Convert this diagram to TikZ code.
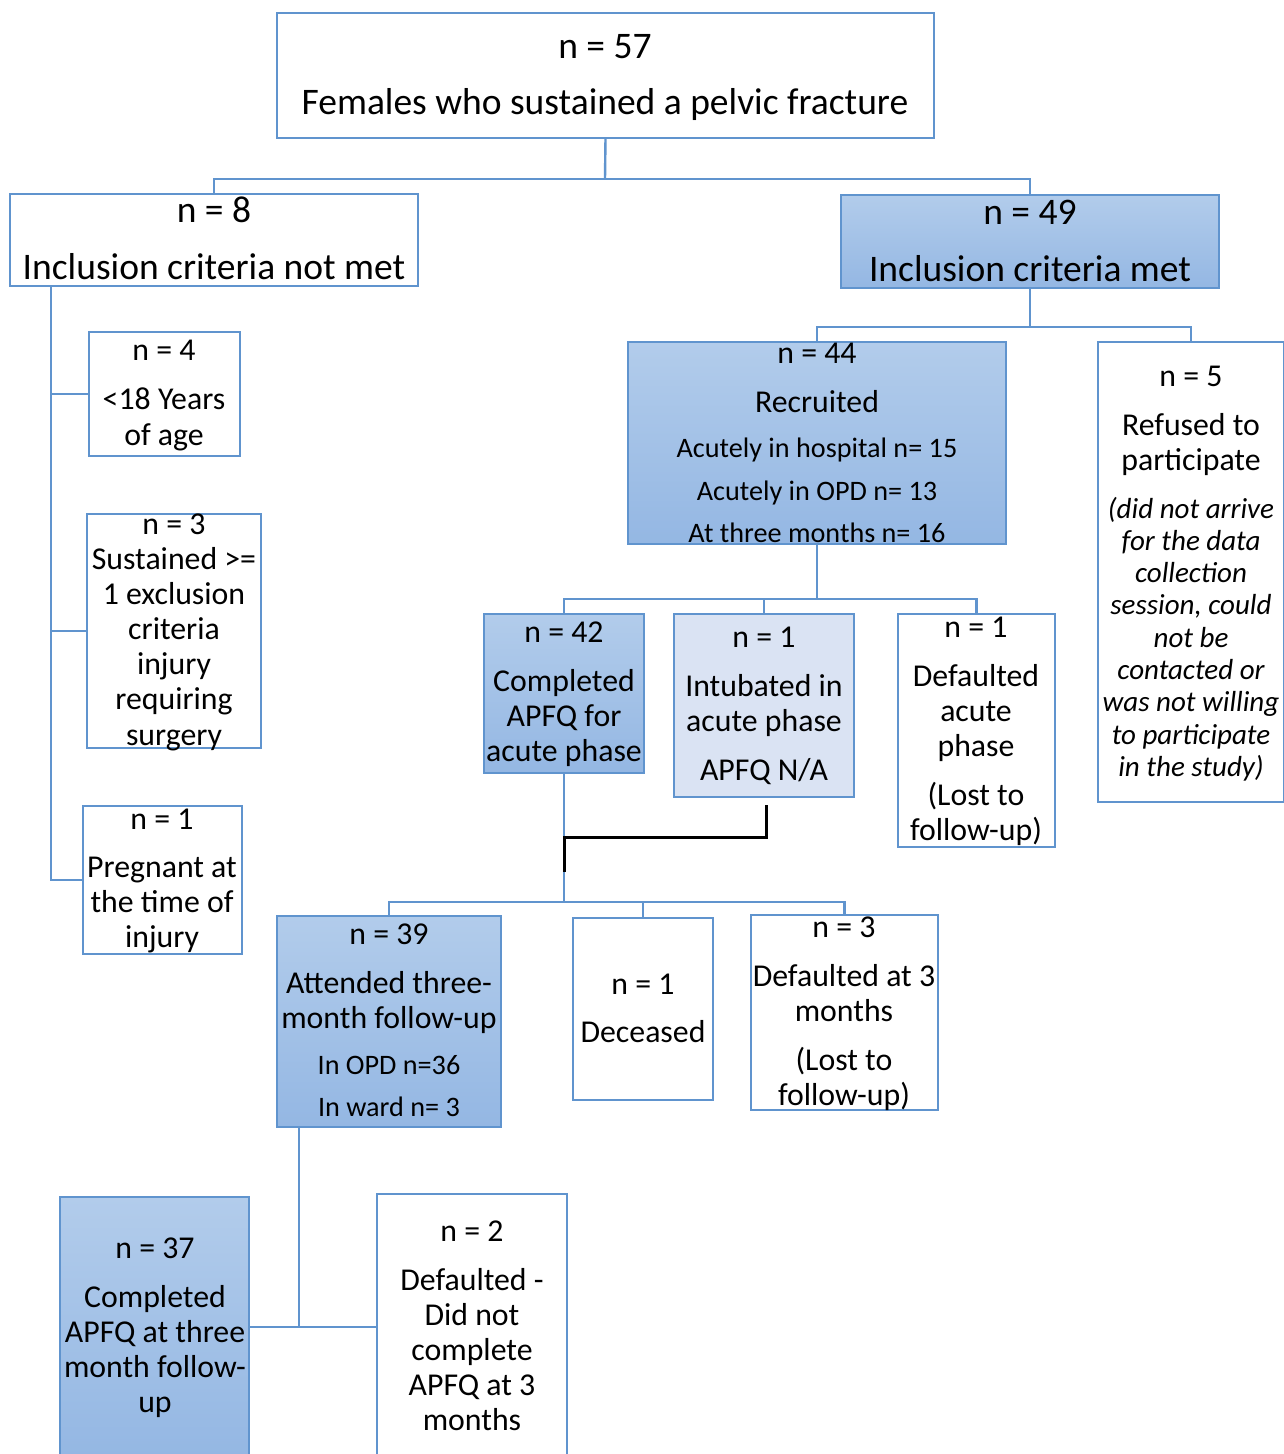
\documentclass[tikz,border=0pt]{standalone}
\usepackage{fontspec}
\setmainfont{Carlito}
\definecolor{lineblue}{RGB}{96,148,206}
\definecolor{fillTop}{RGB}{178,204,235}
\definecolor{fillBot}{RGB}{148,183,227}
\definecolor{paleblue}{RGB}{218,227,243}

\newcommand\fntTop{\fontsize{37.5}{44}\selectfont}
\newcommand\fntBox{\fontsize{31.8}{37}\selectfont}
\newcommand\fntSm{\fontsize{28.2}{33}\selectfont}
\newcommand\fntIt{\fontsize{29}{34}\selectfont\itshape}

% one centred text line per entry: baseline / font / text
\newcommand\boxtext[3]{%
  \foreach \lnY/\lnF/\lnT [count=\lnK] in {#3}
    {\node[font=\lnF, anchor=base, inner sep=0pt] (#1-\lnK) at (#2,\lnY) {\lnT};}}

\tikzset{
  frame/.style={draw=lineblue, line width=2pt, rectangle, inner sep=0pt, outer sep=0pt, anchor=north west},
  plain/.style={frame, fill=white},
  shaded/.style={frame, top color=fillTop, bottom color=fillBot},
  pale/.style={frame, fill=paleblue},
  link/.style={draw=lineblue, line width=2.4pt},
  darklink/.style={draw=black, line width=3pt},
}

\begin{document}
\begin{tikzpicture}[x=1pt,y=-1pt]
\fill[white] (0,0) rectangle (1283,1454);
\useasboundingbox (0,0) rectangle (1283,1454);

% boxes
\node[plain,  minimum width=657pt, minimum height=125pt] (top)    at (277,13)   {};
\node[plain,  minimum width=408pt, minimum height=92pt]  (notmet) at (10,194)   {};
\node[shaded, minimum width=378pt, minimum height=93pt]  (met)    at (841,195)  {};
\node[plain,  minimum width=151pt, minimum height=124pt] (age)    at (89,332)   {};
\node[plain,  minimum width=174pt, minimum height=234pt] (excl)   at (87,514)   {};
\node[plain,  minimum width=159pt, minimum height=148pt] (preg)   at (83,806)   {};
\node[shaded, minimum width=378pt, minimum height=202pt] (rec)    at (628,342)  {};
\node[plain,  minimum width=186pt, minimum height=460pt] (ref)    at (1098,342) {};
\node[shaded, minimum width=160pt, minimum height=159pt] (acute)  at (484,614)  {};
\node[pale,   minimum width=180pt, minimum height=183pt] (intub)  at (674,614)  {};
\node[plain,  minimum width=157pt, minimum height=233pt] (defa)   at (898,614)  {};
\node[shaded, minimum width=224pt, minimum height=211pt] (att)    at (277,916)  {};
\node[plain,  minimum width=140pt, minimum height=182pt] (dec)    at (573,918)  {};
\node[plain,  minimum width=187pt, minimum height=195pt] (defb)   at (751,915)  {};
\node[shaded, minimum width=189pt, minimum height=260pt] (three)  at (60,1197)  {};
\node[plain,  minimum width=190pt, minimum height=266pt] (defc)   at (377,1194) {};

% texts
\boxtext{top}{605}{58/\fntTop/{n = 57}, 114/\fntTop/{Females who sustained a pelvic fracture}}
\boxtext{notmet}{214}{222/\fntTop/{n = 8}, 279/\fntTop/{Inclusion criteria not met}}
\boxtext{met}{1030}{224/\fntTop/{n = 49}, 281/\fntTop/{Inclusion criteria met}}
\boxtext{age}{164}{360/\fntBox/{n = 4}, 409/\fntBox/{<18 Years}, 445/\fntBox/{of age}}
\boxtext{excl}{174}{534/\fntBox/{n = 3}, 569/\fntBox/{Sustained >=}, 604/\fntBox/{1 exclusion},
  639/\fntBox/{criteria}, 674/\fntBox/{injury}, 709/\fntBox/{requiring}, 745/\fntBox/{surgery}}
\boxtext{preg}{162}{829/\fntBox/{n = 1}, 877/\fntBox/{Pregnant at}, 912/\fntBox/{the time of}, 947/\fntBox/{injury}}
\boxtext{rec}{817}{363/\fntBox/{n = 44}, 412/\fntBox/{Recruited}, 457/\fntSm/{Acutely in hospital n= 15},
  500/\fntSm/{Acutely in OPD n= 13}, 542/\fntSm/{At three months n= 16}}
\boxtext{ref}{1191}{386/\fntBox/{n = 5}, 435/\fntBox/{Refused to}, 470/\fntBox/{participate},
  518/\fntIt/{(did not arrive}, 550/\fntIt/{for the data}, 582/\fntIt/{collection},
  614/\fntIt/{session, could}, 647/\fntIt/{not be}, 679/\fntIt/{contacted or},
  711/\fntIt/{was not willing}, 744/\fntIt/{to participate}, 776/\fntIt/{in the study)}}
\boxtext{acute}{564}{642/\fntBox/{n = 42}, 691/\fntBox/{Completed}, 726/\fntBox/{APFQ for}, 761/\fntBox/{acute phase}}
\boxtext{intub}{764}{647/\fntBox/{n = 1}, 696/\fntBox/{Intubated in}, 731/\fntBox/{acute phase}, 780/\fntBox/{APFQ N/A}}
\boxtext{defa}{976}{637/\fntBox/{n = 1}, 686/\fntBox/{Defaulted}, 721/\fntBox/{acute}, 756/\fntBox/{phase},
  805/\fntBox/{(Lost to}, 840/\fntBox/{follow-up)}}
\boxtext{att}{389}{944/\fntBox/{n = 39}, 993/\fntBox/{Attended three-}, 1028/\fntBox/{month follow-up},
  1074/\fntSm/{In OPD n=36}, 1116/\fntSm/{In ward n= 3}}
\boxtext{dec}{643}{994/\fntBox/{n = 1}, 1042/\fntBox/{Deceased}}
\boxtext{defb}{844}{937/\fntBox/{n = 3}, 986/\fntBox/{Defaulted at 3}, 1021/\fntBox/{months},
  1070/\fntBox/{(Lost to}, 1105/\fntBox/{follow-up)}}
\boxtext{three}{155}{1258/\fntBox/{n = 37}, 1307/\fntBox/{Completed}, 1342/\fntBox/{APFQ at three},
  1377/\fntBox/{month follow-}, 1412/\fntBox/{up}}
\boxtext{defc}{472}{1241/\fntBox/{n = 2}, 1290/\fntBox/{Defaulted -}, 1325/\fntBox/{Did not},
  1360/\fntBox/{complete}, 1395/\fntBox/{APFQ at 3}, 1430/\fntBox/{months}}

% connectors
\coordinate (j1) at (605,179);
\draw[link] (top.south) -- (j1);
\draw[link] (notmet.north) |- (j1) -| (met.north);

\coordinate (s1) at (51,286);
\draw[link] (s1) |- (preg.west);
\draw[link] (s1) |- (age.west);
\draw[link] (s1) |- (excl.west);

\coordinate (j2) at (1030,327);
\draw[link] (met.south) -- (j2);
\draw[link] (rec.north) |- (j2) -| (ref.north);

\coordinate (j3) at (817,599);
\draw[link] (rec.south) -- (j3);
\draw[link] (acute.north) |- (j3) -| (defa.north);
\draw[link] (intub.north) -- (intub.north |- j3);

\coordinate (j4) at (564,902);
\coordinate (k1) at (564,872);
\draw[link] (acute.south) -- (j4);
\draw[darklink] ([xshift=2pt,yshift=-8pt]intub.south) -- ++(0,32) -| (k1);
\draw[link] (att.north) |- (j4) -| (defb.north);
\draw[link] (dec.north) -- (dec.north |- j4);

\coordinate (j5) at (299,1327);
\draw[link] ([xshift=22pt]att.south west) -- (j5);
\draw[link] (three.east) -- (defc.west);
\end{tikzpicture}
\end{document}
